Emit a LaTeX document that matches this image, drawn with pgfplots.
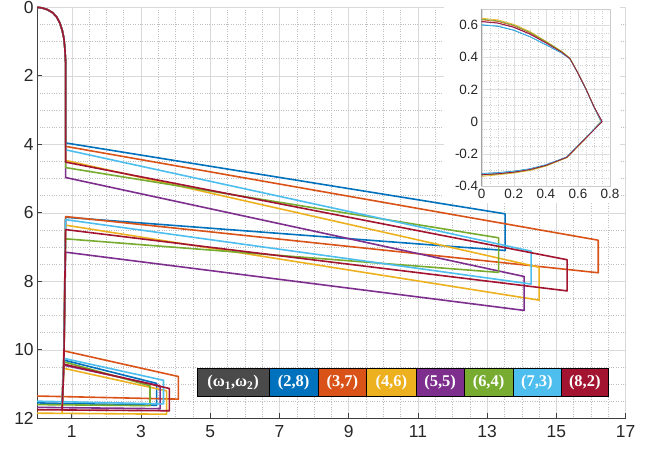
\documentclass[border=0pt]{standalone}
\usepackage{pgfplots}
\pgfplotsset{compat=1.18}
\usepackage{fontspec}
\setmainfont{Liberation Sans}
\newfontfamily\tnr{Liberation Serif}
\definecolor{c1}{RGB}{0,114,189}
\definecolor{c2}{RGB}{217,83,25}
\definecolor{c3}{RGB}{237,177,32}
\definecolor{c4}{RGB}{126,47,142}
\definecolor{c5}{RGB}{119,172,48}
\definecolor{c6}{RGB}{77,190,238}
\definecolor{c7}{RGB}{162,20,47}
\definecolor{lg}{RGB}{74,74,74}
\begin{document}
\begin{tikzpicture}
\begin{axis}[
  at={(0bp,0bp)}, anchor=south west,
  scale only axis, width=588.4bp, height=411bp,
  xmin=0, xmax=17, ymin=0, ymax=12, y dir=reverse,
  xtick={1,3,5,7,9,11,13,15,17}, ytick={0,2,4,6,8,10,12},
  minor x tick num=3, minor y tick num=3,
  grid=both,
  major grid style={black!15, line width=0.5bp},
  minor grid style={black!25, dotted, line width=0.5bp},
  axis line style={draw=none},
  tick style={draw=none},
  ticklabel style={font=\fontsize{17.5}{17.5}\selectfont, text=black!85},
  xticklabel style={yshift=-4bp},
  /pgf/number format/assume math mode=true,
  clip=false,
  every axis plot/.append style={line width=1.6bp, line join=round},
]
% white background of the inset region
\fill[white] (axis cs:11.75,-0.25) rectangle (axis cs:16.84,5.72);
\draw[black!75, line width=0.7bp] (axis cs:0,0) -- (axis cs:0,12) -- (axis cs:17,12);
\pgfplotsinvokeforeach{1,3,5,7,9,11,13,15,17}{\draw[black!75, line width=0.7bp] (axis cs:#1,12) -- ++(0,5bp);}
\pgfplotsinvokeforeach{0,2,4,6,8,10,12}{\draw[black!75, line width=0.7bp] (axis cs:0,#1) -- ++(5bp,0);}
% (2,8) blue
\addplot[c1] coordinates {(0,0) (0.15,0.02) (0.3,0.07) (0.45,0.16) (0.56,0.28) (0.65,0.45) (0.72,0.66) (0.77,0.9) (0.8,1.2) (0.82,1.6)
 (0.82,3.96) (13.52,6.03) (13.52,7.10) (0.82,6.13) (0.77,10.30) (3.45,10.98) (3.45,11.62) (0,11.55)};
\addplot[c1] coordinates {(0.77,10.30) (0.72,11.62)};
% (3,7) orange
\addplot[c2] coordinates {(0,0) (0.15,0.02) (0.3,0.07) (0.45,0.16) (0.56,0.28) (0.65,0.45) (0.72,0.66) (0.77,0.9) (0.8,1.2) (0.82,1.6)
 (0.82,4.06) (16.21,6.80) (16.21,7.75) (0.82,6.11) (0.77,10.03) (4.08,10.78) (4.08,11.44) (0,11.35)};
\addplot[c2] coordinates {(0.77,10.03) (0.72,11.44)};
% (4,6) yellow
\addplot[c3] coordinates {(0,0) (0.15,0.02) (0.3,0.07) (0.45,0.16) (0.56,0.28) (0.65,0.45) (0.72,0.66) (0.77,0.9) (0.8,1.2) (0.82,1.6)
 (0.82,4.47) (14.50,7.59) (14.50,8.55) (0.82,6.36) (0.77,10.54) (3.74,11.20) (3.74,11.88) (0,11.85)};
\addplot[c3] coordinates {(0.77,10.54) (0.72,11.88)};
% (5,5) purple
\addplot[c4] coordinates {(0,0) (0.15,0.02) (0.3,0.07) (0.45,0.16) (0.56,0.28) (0.65,0.45) (0.72,0.66) (0.77,0.9) (0.8,1.2) (0.82,1.6)
 (0.82,4.97) (14.07,7.86) (14.07,8.85) (0.82,7.15) (0.77,10.45) (3.55,11.05) (3.55,11.72) (0,11.68)};
\addplot[c4] coordinates {(0.77,10.45) (0.72,11.72)};
% (6,4) green
\addplot[c5] coordinates {(0,0) (0.15,0.02) (0.3,0.07) (0.45,0.16) (0.56,0.28) (0.65,0.45) (0.72,0.66) (0.77,0.9) (0.8,1.2) (0.82,1.6)
 (0.82,4.68) (13.33,6.73) (13.33,7.74) (0.82,6.76) (0.77,10.35) (3.26,11.05) (3.26,11.63) (0,11.60)};
\addplot[c5] coordinates {(0.77,10.35) (0.72,11.63)};
% (7,3) light blue
\addplot[c6] coordinates {(0,0) (0.15,0.02) (0.3,0.07) (0.45,0.16) (0.56,0.28) (0.65,0.45) (0.72,0.66) (0.77,0.9) (0.8,1.2) (0.82,1.6)
 (0.82,4.16) (14.27,7.12) (14.27,8.08) (0.82,6.20) (0.77,10.25) (3.65,10.89) (3.65,11.58) (0,11.50)};
\addplot[c6] coordinates {(0.77,10.25) (0.72,11.58)};
% (8,2) dark red
\addplot[c7] coordinates {(0,0) (0.15,0.02) (0.3,0.07) (0.45,0.16) (0.56,0.28) (0.65,0.45) (0.72,0.66) (0.77,0.9) (0.8,1.2) (0.82,1.6)
 (0.82,4.52) (15.31,7.37) (15.31,8.28) (0.82,6.49) (0.77,10.42) (3.82,11.13) (3.82,11.78) (0,11.75)};
\addplot[c7] coordinates {(0.77,10.42) (0.72,11.78)};
% legend strip
\tikzset{lgt/.style={text=white, font=\tnr\bfseries\fontsize{16.5}{16.5}\selectfont}}
\draw[black, line width=0.5bp, fill=lg] (axis cs:4.61,10.55) rectangle (axis cs:6.71,11.37);
\node[lgt] at (axis cs:5.66,10.96) {(ω\textsubscript{1},ω\textsubscript{2})};
\draw[black, line width=0.5bp, fill=c1] (axis cs:6.71,10.55) rectangle (axis cs:8.11,11.37);
\node[lgt] at (axis cs:7.41,10.96) {(2,8)};
\draw[black, line width=0.5bp, fill=c2] (axis cs:8.11,10.55) rectangle (axis cs:9.52,11.37);
\node[lgt] at (axis cs:8.815,10.96) {(3,7)};
\draw[black, line width=0.5bp, fill=c3] (axis cs:9.52,10.55) rectangle (axis cs:10.94,11.37);
\node[lgt] at (axis cs:10.23,10.96) {(4,6)};
\draw[black, line width=0.5bp, fill=c4] (axis cs:10.94,10.55) rectangle (axis cs:12.34,11.37);
\node[lgt] at (axis cs:11.64,10.96) {(5,5)};
\draw[black, line width=0.5bp, fill=c5] (axis cs:12.34,10.55) rectangle (axis cs:13.74,11.37);
\node[lgt] at (axis cs:13.04,10.96) {(6,4)};
\draw[black, line width=0.5bp, fill=c6] (axis cs:13.74,10.55) rectangle (axis cs:15.13,11.37);
\node[lgt] at (axis cs:14.435,10.96) {(7,3)};
\draw[black, line width=0.5bp, fill=c7] (axis cs:15.13,10.55) rectangle (axis cs:16.51,11.37);
\node[lgt] at (axis cs:15.82,10.96) {(8,2)};
\end{axis}
\begin{axis}[
  at={(444.5bp,232.3bp)}, anchor=south west,
  scale only axis, width=128.3bp, height=177.1bp,
  xmin=0, xmax=0.8, ymin=-0.4, ymax=0.7,
  xtick={0,0.2,0.4,0.6,0.8}, ytick={-0.4,-0.2,0,0.2,0.4,0.6},
  minor x tick num=3, minor y tick num=3,
  grid=both,
  major grid style={black!13, line width=0.4bp},
  minor grid style={black!18, dotted, line width=0.4bp},
  axis line style={black!20, line width=0.5bp},
  tick style={draw=none},
  ticklabel style={font=\fontsize{13.5}{13.5}\selectfont, text=black!85},
  /pgf/number format/assume math mode=true,
  every axis plot/.append style={line width=0.7bp, line join=round},
]
\draw[black!65, line width=0.6bp] (axis cs:0,0.7) -- (axis cs:0,-0.4) -- (axis cs:0.8,-0.4);
\addplot[c1] coordinates {(0,0.600) (0.1,0.592) (0.2,0.567) (0.3,0.527) (0.4,0.477) (0.5,0.425) (0.55,0.390) (0.6,0.300) (0.65,0.200) (0.7,0.090) (0.745,0)
 (0.64,-0.110) (0.53,-0.220) (0.4,-0.268) (0.3,-0.293) (0.2,-0.308) (0.1,-0.317) (0,-0.322)};
\addplot[c2] coordinates {(0,0.632) (0.1,0.622) (0.2,0.595) (0.3,0.552) (0.4,0.495) (0.5,0.433) (0.55,0.392) (0.6,0.302) (0.65,0.202) (0.7,0.092) (0.748,0)
 (0.64,-0.112) (0.53,-0.222) (0.4,-0.272) (0.3,-0.298) (0.2,-0.313) (0.1,-0.323) (0,-0.330)};
\addplot[c3] coordinates {(0,0.642) (0.1,0.632) (0.2,0.604) (0.3,0.560) (0.4,0.500) (0.5,0.436) (0.55,0.394) (0.6,0.304) (0.65,0.204) (0.7,0.094) (0.742,0)
 (0.64,-0.114) (0.53,-0.225) (0.4,-0.277) (0.3,-0.304) (0.2,-0.320) (0.1,-0.331) (0,-0.340)};
\addplot[c4] coordinates {(0,0.620) (0.1,0.611) (0.2,0.585) (0.3,0.543) (0.4,0.489) (0.5,0.430) (0.55,0.391) (0.6,0.302) (0.65,0.203) (0.7,0.093) (0.752,0)
 (0.64,-0.112) (0.53,-0.222) (0.4,-0.272) (0.3,-0.298) (0.2,-0.314) (0.1,-0.324) (0,-0.330)};
\addplot[c5] coordinates {(0,0.636) (0.1,0.626) (0.2,0.599) (0.3,0.555) (0.4,0.497) (0.5,0.434) (0.55,0.393) (0.6,0.303) (0.65,0.203) (0.7,0.093) (0.746,0)
 (0.64,-0.113) (0.53,-0.223) (0.4,-0.274) (0.3,-0.300) (0.2,-0.316) (0.1,-0.326) (0,-0.333)};
\addplot[c6] coordinates {(0,0.602) (0.1,0.594) (0.2,0.569) (0.3,0.529) (0.4,0.479) (0.5,0.426) (0.55,0.390) (0.6,0.300) (0.65,0.200) (0.7,0.090) (0.744,0)
 (0.64,-0.110) (0.53,-0.220) (0.4,-0.269) (0.3,-0.294) (0.2,-0.310) (0.1,-0.319) (0,-0.325)};
\addplot[c7] coordinates {(0,0.622) (0.1,0.613) (0.2,0.587) (0.3,0.545) (0.4,0.490) (0.5,0.430) (0.55,0.391) (0.6,0.301) (0.65,0.202) (0.7,0.092) (0.750,0)
 (0.64,-0.112) (0.53,-0.222) (0.4,-0.272) (0.3,-0.298) (0.2,-0.314) (0.1,-0.324) (0,-0.330)};
\end{axis}
\pgfresetboundingbox
\path[use as bounding box] (-37.2bp,-33.7bp) rectangle (617.8bp,418.3bp);
\end{tikzpicture}
\end{document}
